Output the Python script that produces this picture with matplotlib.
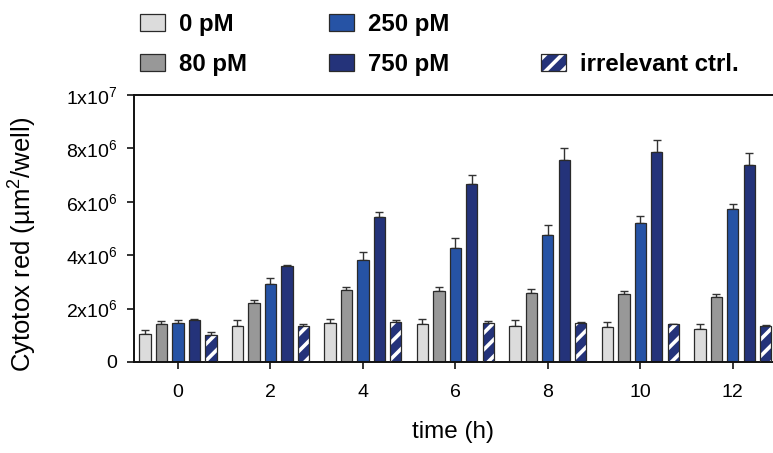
import matplotlib
matplotlib.use("Agg")
import matplotlib.pyplot as plt
from matplotlib.patches import Rectangle
import numpy as np

plt.rcParams['font.family'] = ['Liberation Sans', 'DejaVu Sans']
plt.rcParams['mathtext.fontset'] = 'custom'
plt.rcParams['mathtext.rm'] = 'Liberation Sans'
plt.rcParams['hatch.linewidth'] = 2.6

times = [0, 2, 4, 6, 8, 10, 12]
series_names = ['0 pM', '80 pM', '250 pM', '750 pM', 'irrelevant ctrl.']
v_0 = [1.04e6, 1.36e6, 1.45e6, 1.42e6, 1.36e6, 1.31e6, 1.25e6]
v_80 = [1.42e6, 2.21e6, 2.68e6, 2.67e6, 2.60e6, 2.53e6, 2.42e6]
v_250 = [1.46e6, 2.92e6, 3.83e6, 4.28e6, 4.74e6, 5.21e6, 5.72e6]
v_750 = [1.58e6, 3.58e6, 5.43e6, 6.65e6, 7.55e6, 7.87e6, 7.37e6]
v_irr = [1.02e6, 1.36e6, 1.49e6, 1.47e6, 1.45e6, 1.41e6, 1.36e6]
e_0 = [0.16e6, 0.21e6, 0.16e6, 0.18e6, 0.20e6, 0.18e6, 0.18e6]
e_80 = [0.10e6, 0.12e6, 0.12e6, 0.13e6, 0.15e6, 0.12e6, 0.13e6]
e_250 = [0.11e6, 0.23e6, 0.30e6, 0.38e6, 0.38e6, 0.27e6, 0.20e6]
e_750 = [0.04e6, 0.04e6, 0.17e6, 0.37e6, 0.48e6, 0.46e6, 0.46e6]
e_irr = [0.09e6, 0.06e6, 0.07e6, 0.06e6, 0.04e6, 0.02e6, 0.04e6]
y_ticks = [0, 2e6, 4e6, 6e6, 8e6, 1e7]
y_tick_labels = ['0', r'$\mathregular{2x10^{6}}$', r'$\mathregular{4x10^{6}}$',
                 r'$\mathregular{6x10^{6}}$', r'$\mathregular{8x10^{6}}$', r'$\mathregular{1x10^{7}}$']

colors = ['#dcdcdc', '#989898', '#2653a5', '#24337a', '#24337a']
values = [v_0, v_80, v_250, v_750, v_irr]
errors = [e_0, e_80, e_250, e_750, e_irr]

fig = plt.figure(figsize=(7.73, 4.53), dpi=100)
W, H = 773, 453
ax = fig.add_axes([134 / W, 1 - 362 / H, (773 - 134) / W, (362 - 95) / H])

x = np.array(times, dtype=float)
spacing = 0.356
width = 0.245
edge = '#2a2a2a'
for i, (vals, errs, c) in enumerate(zip(values, errors, colors)):
    xs = x + (i - 2) * spacing
    if i == 4:
        ax.bar(xs, vals, width=width, color=c, edgecolor='white', hatch='//', linewidth=0, zorder=2)
        ax.bar(xs, vals, width=width, facecolor='none', edgecolor=edge, linewidth=0.9, zorder=3)
    else:
        ax.bar(xs, vals, width=width, color=c, edgecolor=edge, linewidth=0.9, zorder=2)
    ax.errorbar(xs, vals, yerr=[np.zeros(len(errs)), errs], fmt='none', ecolor='#333333',
                elinewidth=1.0, capsize=3, capthick=1.0, zorder=1)

ax.set_xlim(-0.95, 12.87)
ax.set_ylim(0, 1e7)
ax.set_xticks(times)
ax.set_xticklabels([str(t) for t in times], fontsize=14)
ax.set_yticks(y_ticks)
ax.set_yticklabels(y_tick_labels, fontsize=14)
ax.tick_params(axis='both', direction='out', length=5, width=1.2, color='#111111')
ax.tick_params(axis='x', pad=11)
ax.tick_params(axis='y', pad=7)
for s in ['left', 'bottom', 'top']:
    ax.spines[s].set_linewidth(1.4)
    ax.spines[s].set_color('#111111')
ax.spines['right'].set_visible(False)
ax.set_xlabel('time (h)', fontsize=17.5, labelpad=14)
ax.set_ylabel(r'Cytotox red (µm$^\mathregular{2}$/well)', fontsize=18.5)
ax.yaxis.set_label_coords(-0.150, 0.44)

# legend
leg_items = [(140, 22, 0), (140, 62, 1), (329, 22, 2), (329, 62, 3), (541, 62, 4)]
sw, sh = 25, 17
for px, py, idx in leg_items:
    r = (px / W, 1 - (py + sh / 2) / H)
    if idx == 4:
        fig.patches.append(Rectangle(r, sw / W, sh / H, transform=fig.transFigure,
                                     facecolor=colors[idx], edgecolor='white', hatch='//', linewidth=0))
        fig.patches.append(Rectangle(r, sw / W, sh / H, transform=fig.transFigure,
                                     facecolor='none', edgecolor=edge, linewidth=0.9))
    else:
        fig.patches.append(Rectangle(r, sw / W, sh / H, transform=fig.transFigure,
                                     facecolor=colors[idx], edgecolor=edge, linewidth=0.9))
    fig.text((px + 39) / W, 1 - py / H, series_names[idx], fontsize=17.3, fontweight='bold',
             va='center_baseline', ha='left')

fig.savefig('out.png', dpi=100)
